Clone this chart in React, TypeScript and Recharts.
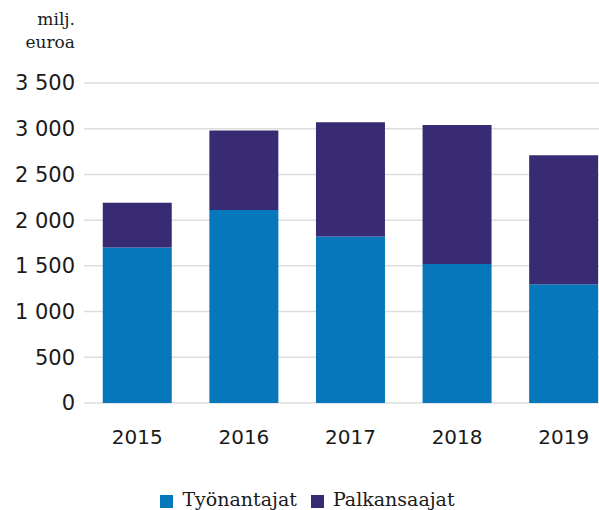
import React from "react";
import { BarChart, Bar, XAxis, YAxis, CartesianGrid, Legend } from "recharts";

const years = ["2015", "2016", "2017", "2018", "2019"];
const tyonantajat = [1700, 2110, 1820, 1520, 1300];
const palkansaajat = [490, 870, 1250, 1520, 1410];
const yTicks = [0, 500, 1000, 1500, 2000, 2500, 3000, 3500];
const seriesOrder = ["Työnantajat", "Palkansaajat"];

const BLUE = "#0677BB";
const PURPLE = "#382B73";

const data = years.map((y, i) => ({
  year: y,
  tyonantajat: tyonantajat[i],
  palkansaajat: palkansaajat[i]
}));

const fmt = (v: number) => String(v).replace(/\B(?=(\d{3})+(?!\d))/g, " ");

export default function App() {
  return (
    <div
      style={{
        position: "absolute",
        left: 0,
        top: 0,
        width: 599,
        height: 510,
        overflow: "hidden",
        background: "#fff"
      }}
    >
      {/* unit label */}
      <div
        style={{
          position: "absolute",
          left: 0,
          top: 8,
          width: 75,
          textAlign: "right",
          fontFamily: "DejaVu Serif",
          fontSize: 17,
          lineHeight: "23px",
          color: "#1a1a1a"
        }}
      >
        milj.
        <br />
        euroa
      </div>
      <BarChart
        width={617}
        height={510}
        data={data}
        margin={{ top: 83, right: 0, left: 0, bottom: 0 }}
        barCategoryGap="17.6%"
      >
        <CartesianGrid vertical={false} stroke="#dedede" strokeWidth={1.5} />
        <XAxis
          dataKey="year"
          axisLine={false}
          tickLine={false}
          tickSize={0}
          tickMargin={27}
          height={85}
          tick={{ fill: "#1a1a1a", fontSize: 20, fontFamily: "DejaVu Sans" }}
        />
        <YAxis
          width={84}
          domain={[0, 3500]}
          ticks={yTicks}
          interval={0}
          axisLine={false}
          tickLine={false}
          tickSize={0}
          tickMargin={9}
          tickFormatter={fmt}
          tick={{ fill: "#1a1a1a", fontSize: 21, fontFamily: "DejaVu Sans" }}
        />
        <Legend
          verticalAlign="bottom"
          iconType="square"
          iconSize={13}
          height={22}
          itemSorter={(item: any) => seriesOrder.indexOf(item.value)}
          wrapperStyle={{ fontFamily: "DejaVu Serif", fontSize: 19, left: 6 }}
          formatter={(value) => (
            <span style={{ color: "#1a1a1a", marginLeft: 5, marginRight: 4 }}>{value}</span>
          )}
        />
        <Bar
          dataKey="tyonantajat"
          name="Työnantajat"
          stackId="a"
          fill={BLUE}
          isAnimationActive={false}
        />
        <Bar
          dataKey="palkansaajat"
          name="Palkansaajat"
          stackId="a"
          fill={PURPLE}
          isAnimationActive={false}
        />
      </BarChart>
    </div>
  );
}
